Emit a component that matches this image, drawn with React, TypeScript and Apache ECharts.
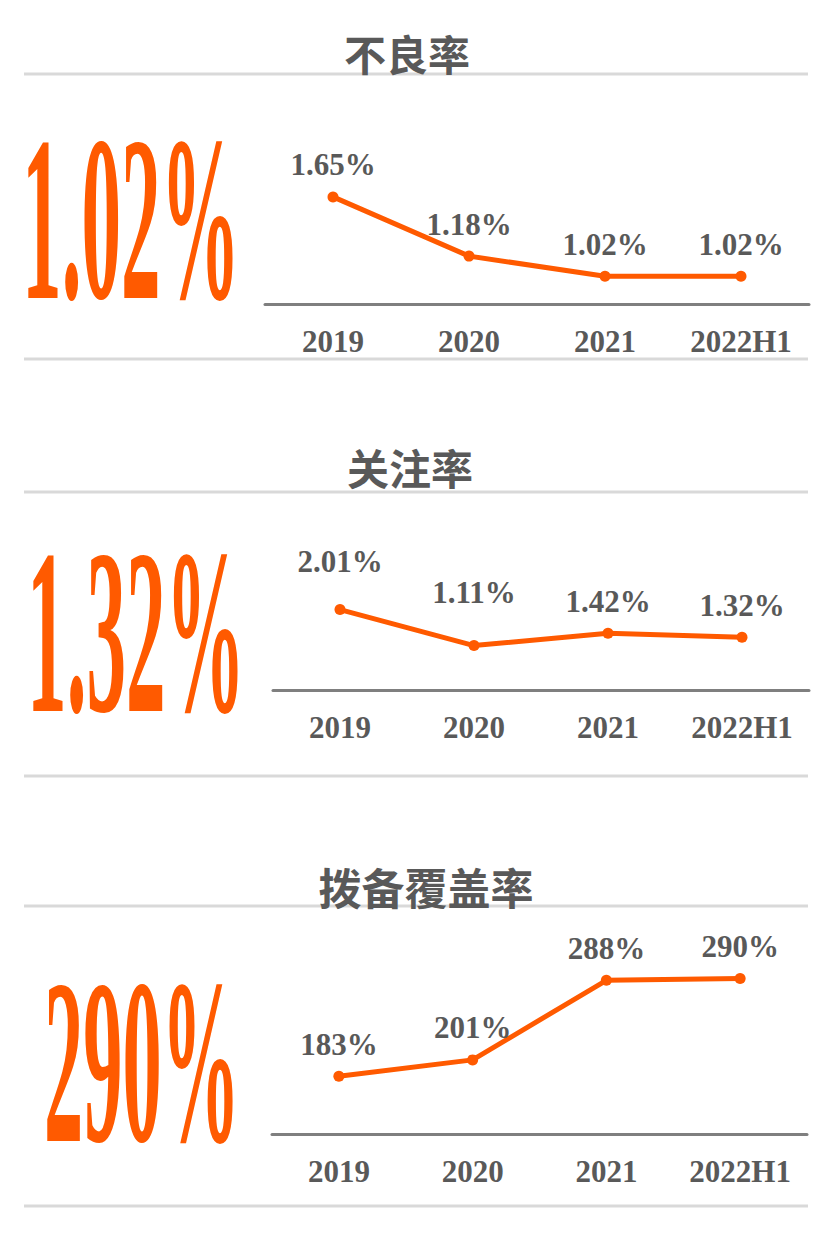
import React, { useEffect, useRef } from "react";
import * as echarts from "echarts";

const categories = ["2019", "2020", "2021", "2022H1"];
const nplRatio = [1.65, 1.18, 1.02, 1.02];
const attentionRatio = [2.01, 1.11, 1.42, 1.32];
const provisionCoverage = [183, 201, 288, 290];
const titles = ["不良率", "关注率", "拨备覆盖率"];
const headlines = ["1.02%", "1.32%", "290%"];

const ORANGE = "#FF5A00";
const GRAY_TEXT = "#595959";
const SERIF = '"Liberation Serif", "Times New Roman", serif';
const CJK = '"Noto Sans CJK SC", sans-serif';

export default function App() {
  const ref = useRef<HTMLDivElement>(null);
  useEffect(() => {
    if (!ref.current) return;
    const chart = echarts.init(ref.current, null, { renderer: "svg" });

    const grids = [
      { left: 265, top: 178, width: 544, height: 126 },
      { left: 273, top: 570, width: 536, height: 120 },
      { left: 272, top: 951, width: 535, height: 183 },
    ];
    const yRanges = [
      { min: 0.8, max: 1.8 },
      { min: 0, max: 3 },
      { min: 120, max: 320 },
    ];
    const seriesData = [nplRatio, attentionRatio, provisionCoverage];
    const fmt = [
      (v: number) => v.toFixed(2) + "%",
      (v: number) => v.toFixed(2) + "%",
      (v: number) => v + "%",
    ];
    const gaps = [
      [11, 11, 11, 11],
      [27, 32, 11, 11],
      [11, 11, 11, 11],
    ];

    const sepLines = [74, 359, 492, 776, 906, 1206].map((y) => ({
      type: "line",
      shape: { x1: 24, y1: y, x2: 808, y2: y },
      style: { stroke: "#d9d9d9", lineWidth: 3 },
      z: 1,
    }));

    const titleEls = [
      { x: 407, y: 52, size: 42 },
      { x: 410, y: 466, size: 42 },
      { x: 426, y: 886, size: 43 },
    ].map((p, i) => ({
      type: "text",
      x: p.x,
      y: p.y,
      z: 5,
      style: {
        text: titles[i],
        font: `bold ${p.size}px ${CJK}`,
        fill: GRAY_TEXT,
        textAlign: "center",
        textVerticalAlign: "middle",
        align: "center",
        verticalAlign: "middle",
      },
    }));

    const bigEls = [
      { x: 131, y: 219, sx: 0.495 },
      { x: 136, y: 632, sx: 0.495 },
      { x: 142, y: 1062, sx: 0.49 },
    ].map((p, i) => ({
      type: "text",
      x: p.x,
      y: p.y,
      scaleX: p.sx,
      scaleY: 1.47,
      z: 5,
      style: {
        text: headlines[i],
        font: `bold 160px ${SERIF}`,
        fill: ORANGE,
        textAlign: "center",
        textVerticalAlign: "middle",
        align: "center",
        verticalAlign: "middle",
      },
    }));

    chart.setOption({
      animation: false,
      backgroundColor: "#ffffff",
      grid: grids,
      xAxis: grids.map((_, i) => ({
        type: "category",
        gridIndex: i,
        data: categories,
        boundaryGap: true,
        axisLine: { show: true, lineStyle: { color: "#7f7f7f", width: 3 } },
        axisTick: { show: false },
        splitLine: { show: false },
        axisLabel: {
          margin: 22,
          color: GRAY_TEXT,
          fontFamily: SERIF,
          fontWeight: "bold",
          fontSize: 31,
        },
      })),
      yAxis: grids.map((_, i) => ({
        type: "value",
        gridIndex: i,
        min: yRanges[i].min,
        max: yRanges[i].max,
        show: false,
        splitLine: { show: false },
      })),
      series: seriesData.map((arr, i) => ({
        type: "line",
        xAxisIndex: i,
        yAxisIndex: i,
        data: arr.map((v, j) => ({
          value: v,
          label: { distance: gaps[i][j] },
        })),
        symbol: "circle",
        symbolSize: 11,
        lineStyle: { color: ORANGE, width: 5 },
        itemStyle: { color: ORANGE },
        label: {
          show: true,
          position: "top",
          color: GRAY_TEXT,
          fontFamily: SERIF,
          fontWeight: "bold",
          fontSize: 31,
          formatter: (p: any) => fmt[i](p.value),
        },
        z: 3,
      })),
      graphic: [...sepLines, ...titleEls, ...bigEls],
    });

    return () => chart.dispose();
  }, []);

  return (
    <div
      ref={ref}
      style={{ position: "fixed", left: 0, top: 0, width: 833, height: 1243 }}
    />
  );
}
